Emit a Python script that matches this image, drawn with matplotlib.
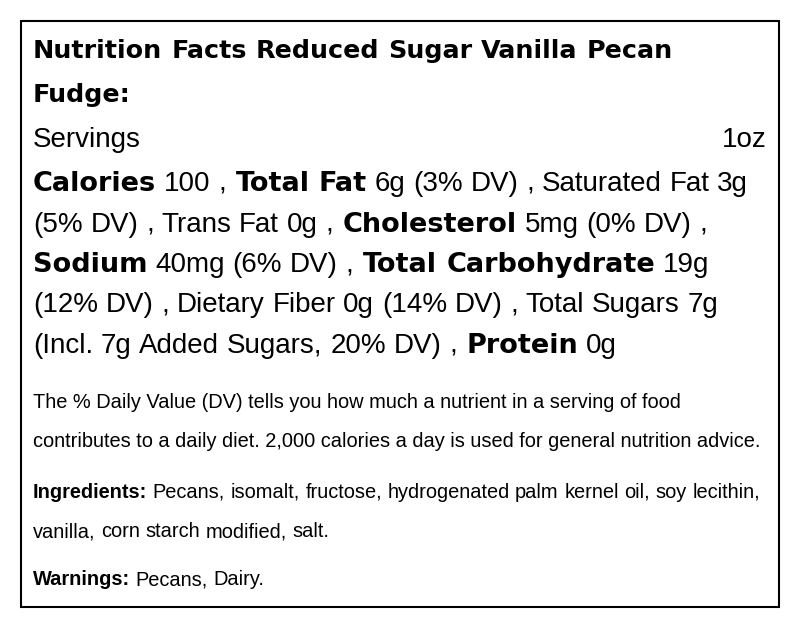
import matplotlib.pyplot as plt
from matplotlib.patches import Rectangle

title = "Nutrition Facts Reduced Sugar Vanilla Pecan Fudge:"
serving_label = "Servings"
serving_size = "1oz"
# (name, amount, is_main)
nutrients = [
    ("Calories", "100", True),
    ("Total Fat", "6g (3% DV)", True),
    ("Saturated Fat", "3g (5% DV)", False),
    ("Trans Fat", "0g", False),
    ("Cholesterol", "5mg (0% DV)", True),
    ("Sodium", "40mg (6% DV)", True),
    ("Total Carbohydrate", "19g (12% DV)", True),
    ("Dietary Fiber", "0g (14% DV)", False),
    ("Total Sugars", "7g (Incl. 7g Added Sugars, 20% DV)", False),
    ("Protein", "0g", True),
]
dv_note = ["The % Daily Value (DV) tells you how much a nutrient in a serving of food",
           "contributes to a daily diet. 2,000 calories a day is used for general nutrition advice."]
ingredients = "Pecans, isomalt, fructose, hydrogenated palm kernel oil, soy lecithin, vanilla, corn starch modified, salt."
warnings = "Pecans, Dairy."

W, H = 800, 628
fig = plt.figure(figsize=(8, 6.28), dpi=100)
ax = fig.add_axes([0, 0, 1, 1])
ax.set_xlim(0, W)
ax.set_ylim(H, 0)
ax.axis('off')
ax.add_patch(Rectangle((20.5, 20.5), 758, 586, fill=False, lw=1.5, ec='black'))
fig.canvas.draw()
renderer = fig.canvas.get_renderer()

REG = dict(family='Liberation Sans', fontsize=20)
TITLE = dict(family='DejaVu Sans', fontweight='bold', fontsize=18.3)
HEAVY = dict(family='DejaVu Sans', fontweight='bold', fontsize=19.5)
SMALL = dict(family='Liberation Sans', fontsize=14.4)
SMALLB = dict(family='Liberation Sans', fontsize=14.4, fontweight='bold')


def width(s, style):
    t = ax.text(0, 0, s, **style)
    w = t.get_window_extent(renderer).width
    t.remove()
    return w


def flow(tokens, x0, x1, y0, dy):
    # tokens: list of (word, style, space_before)
    x, y = x0, y0
    for word, style, sp in tokens:
        sw = width(' ', style) if sp else 0
        w = width(word, style)
        if x > x0 and x + sw + w > x1:
            x, y = x0, y + dy
            sw = 0
        ax.text(x + sw, y, word, va='baseline', **style)
        x += sw + w
    return y


left, right = 33, 772
# title
toks = [(w, TITLE, i > 0) for i, w in enumerate(title.split())]
flow(toks, left, 690, 58, 44)

ax.text(left, 147, serving_label, va='baseline', **REG)
ax.text(767, 147, serving_size, va='baseline', ha='right', **REG)

toks = []
for i, (name, amt, main) in enumerate(nutrients):
    parts = [(w, HEAVY if main else REG) for w in name.split()]
    parts += [(w, REG) for w in amt.split()]
    if i < len(nutrients) - 1:
        parts.append((',', REG))
    for j, (w, st) in enumerate(parts):
        toks.append((w, st, not (i == 0 and j == 0)))
flow(toks, left, right, 191, 40.5)

for k, line in enumerate(dv_note):
    ax.text(left, 408 + 39 * k, line, va='baseline', **SMALL)

toks = [("Ingredients:", SMALLB, False)] + [(w, SMALL, True) for w in ingredients.split()]
flow(toks, left, 760, 498, 39)

toks = [("Warnings:", SMALLB, False)] + [(w, SMALL, True) for w in warnings.split()]
flow(toks, left, right, 585, 39)

fig.savefig('out.png', dpi=100)
